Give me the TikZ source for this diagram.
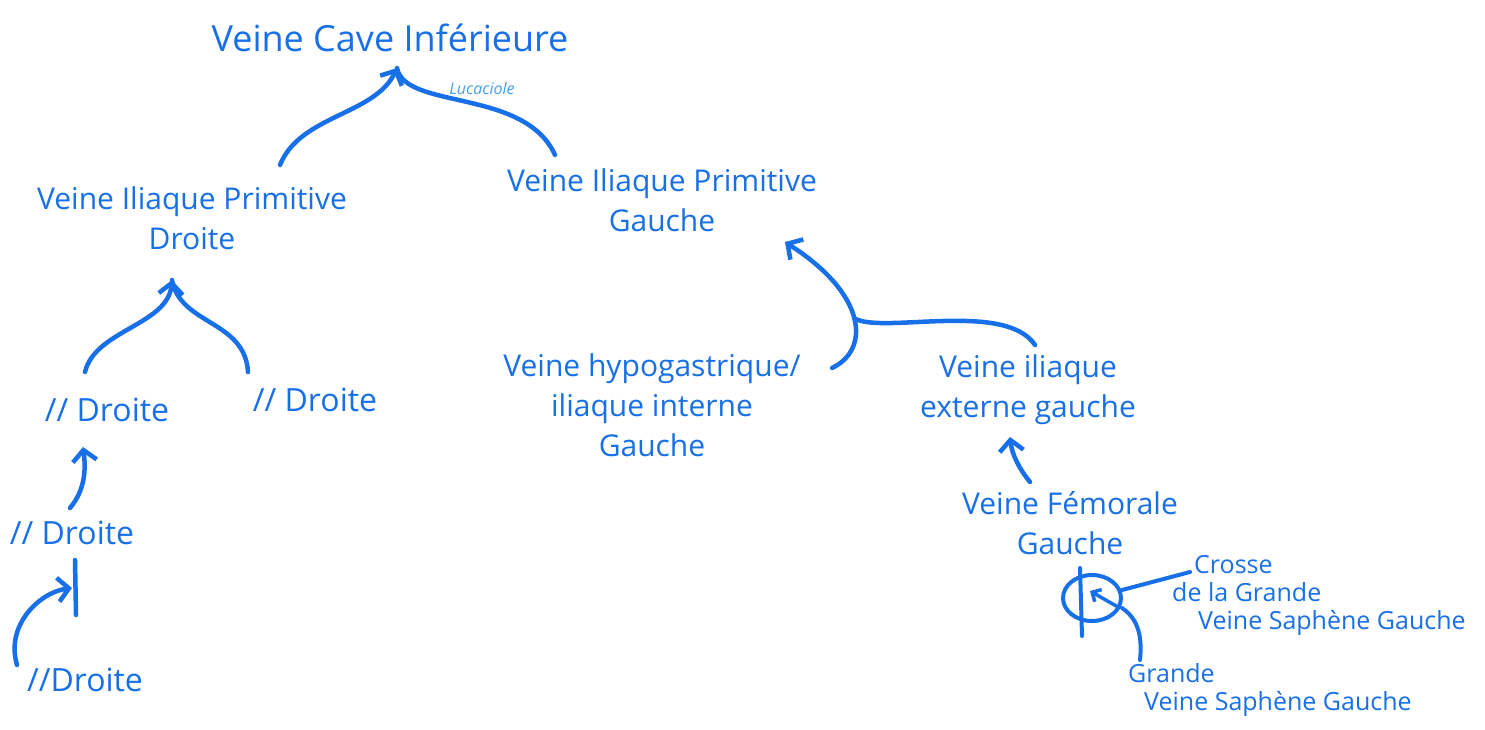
\documentclass[tikz,border=0pt]{standalone}
\usepackage{fontspec}
\setmainfont{Open Sans}
\usetikzlibrary{arrows.meta,shapes.geometric}
\definecolor{ink}{RGB}{24,112,232}
\definecolor{inklight}{RGB}{70,160,235}
\tikzset{
  txt/.style={inner sep=0pt, text=ink, align=center},
  title/.style={txt, font=\fontsize{36}{40}\selectfont},
  lab/.style={txt, font=\fontsize{30}{40}\selectfont},
  slashlab/.style={txt, font=\fontsize{32}{40}\selectfont},
  smalllab/.style={txt, align=left, anchor=north west, font=\fontsize{25}{28}\selectfont},
  tinylab/.style={inner sep=0pt, text=inklight, font=\itshape\fontsize{16}{18}\selectfont},
  link/.style={draw=ink, line width=4.5pt, line cap=round, line join=round},
  arr/.style={link, -{Straight Barb[length=11pt,width=24pt,line width=4.5pt]}},
  smallarr/.style={link, line width=3.5pt, -{Straight Barb[length=7pt,width=14pt,line width=3.5pt]}},
}
\begin{document}
\begin{tikzpicture}[x=1pt,y=-1pt]
\useasboundingbox[fill=white] (0,0) rectangle (1485,729);

% nodes
\node[title] (vci) at (390,38) {Veine Cave Inférieure};
\node[tinylab] (luc) at (482,88) {Lucaciole};
\node[lab] (vipd) at (192,218) {Veine Iliaque Primitive\\Droite};
\node[lab] (vipg) at (662,200) {Veine Iliaque Primitive\\Gauche};
\node[slashlab] (d1) at (107,410) {// Droite};
\node[slashlab] (d2) at (315,400) {// Droite};
\node[slashlab] (d3) at (72,533) {// Droite};
\node[slashlab] (d4) at (85,680) {//Droite};
\node[lab] (hyp) at (652,405) {Veine hypogastrique/\\iliaque interne\\Gauche};
\node[lab] (vie) at (1028,390) {Veine iliaque\\externe gauche};
\node[lab] (fem) at (1070,523) {Veine Fémorale\\Gauche};
\node[smalllab] (crosse) at (1172,555) {\hspace{22pt}Crosse\\de la Grande\\\hspace{26pt}Veine Saphène Gauche};
\node[smalllab] (gvs) at (1128,663) {Grande\\\hspace{16pt}Veine Saphène Gauche};
\node[draw=ink, line width=4pt, ellipse, minimum width=58pt, minimum height=46pt, inner sep=0pt] (cr) at (1092,598) {};

% coordinates
\coordinate (vcitip) at (397,68);
\coordinate (vcil) at (280,165);
\coordinate (vcir) at (555,155);
\coordinate (vipdtip) at (172,280);
\coordinate (d1s) at (85,372);
\coordinate (d2s) at (248,372);
\coordinate (d1tip) at (83,447);
\coordinate (d3s) at (70,508);
\coordinate (d3a) at (75,560);
\coordinate (d3b) at (76,615);
\coordinate (d4s) at (17,665);
\coordinate (d4tip) at (72,588);
\coordinate (vipgtip) at (785,242);
\coordinate (hyps) at (832,368);
\coordinate (vies) at (1035,345);
\coordinate (viej) at (854,318);
\coordinate (viebot) at (1010,437);
\coordinate (fems) at (1030,482);
\coordinate (vl1) at (1080,568);
\coordinate (vl2) at (1082,636);
\coordinate (crin) at (1118,607);
\coordinate (crintip) at (1090,591);
\coordinate (crr) at (1122,590);
\coordinate (crosw) at (1190,572);
\coordinate (crb) at (1122,608);
\coordinate (gvsn) at (1140,660);

% connectors
\draw[arr] (vcil) .. controls (300,115) and (375,115) .. (vcitip);
\draw[link] (vcitip) .. controls (405,110) and (525,88) .. (vcir);

\draw[arr] (d1s) .. controls (95,330) and (168,325) .. (vipdtip);
\draw[link] (d2s) .. controls (245,320) and (180,325) .. (vipdtip);

\draw[arr] (d3s) .. controls (85,490) and (86,470) .. (d1tip);
\draw[link] (d3a) -- (d3b);
\draw[arr] (d4s) .. controls (5,625) and (40,592) .. (d4tip);

\draw[arr] (hyps) .. controls (870,350) and (868,295) .. (vipgtip);
\draw[link] (vies) .. controls (1005,300) and (880,335) .. (viej);

\draw[arr] (fems) .. controls (1020,470) and (1012,455) .. (viebot);

\draw[link, line width=4pt] (vl1) -- (vl2);
\draw[smallarr] (crin) -- (crintip);
\draw[link, line width=4pt] (crr) -- (crosw);
\draw[link, line width=4pt] (crb) .. controls (1140,620) and (1142,640) .. (gvsn);
\end{tikzpicture}
\end{document}
